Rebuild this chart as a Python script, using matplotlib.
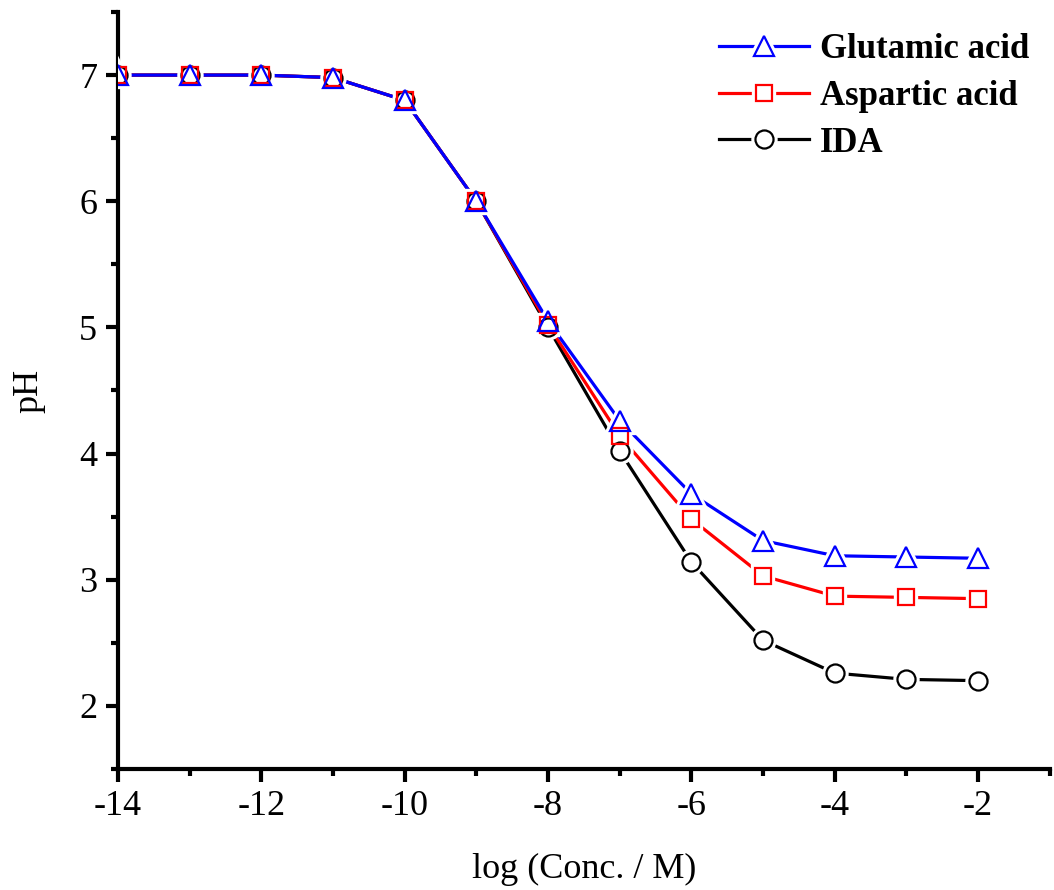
import matplotlib.pyplot as plt
from matplotlib.lines import Line2D
from matplotlib.ticker import MultipleLocator

# ======================================================
# DATA
# ======================================================

log_conc = [-14, -13, -12, -11, -10, -9, -8, -7, -6, -5, -4, -3, -2]

ph_glutamic = [7.0, 7.0, 7.0, 6.98, 6.8, 6.0, 5.05, 4.26, 3.68, 3.31, 3.19, 3.18, 3.17]
ph_aspartic = [7.0, 7.0, 7.0, 6.98, 6.8, 6.0, 5.02, 4.14, 3.48, 3.03, 2.87, 2.86, 2.85]
ph_ida = [7.0, 7.0, 7.0, 6.98, 6.8, 6.0, 5.0, 4.02, 3.14, 2.52, 2.26, 2.21, 2.20]

series = [
    ("IDA", ph_ida, "black", "o", 13),
    ("Aspartic acid", ph_aspartic, "red", "s", 11.5),
    ("Glutamic acid", ph_glutamic, "blue", "^", 14.5),
]

# ======================================================
# PLOT
# ======================================================

plt.rcParams["font.family"] = ["Liberation Serif", "DejaVu Serif"]
plt.rcParams["axes.unicode_minus"] = False

fig = plt.figure(figsize=(10.54, 8.9), dpi=100)
ax = fig.add_axes([0.112, 0.136, 0.884, 0.8505])

handles = {}
for name, vals, col, mk, ms in series:
    ln, = ax.plot(log_conc, vals, color=col, lw=2.3, zorder=2)
    # white halo so the line stops short of each marker
    halo, = ax.plot(log_conc, vals, ls="none", marker=mk, ms=ms, mfc="white",
                    mec="white", mew=6, zorder=3)
    mrk, = ax.plot(log_conc, vals, ls="none", marker=mk, ms=ms, mfc="none",
                   mec=col, mew=1.6, zorder=4)
    handles[name] = (ln, halo, mrk)

ax.set_xlim(-14, -1)
ax.set_ylim(1.5, 7.5)

ax.xaxis.set_major_locator(MultipleLocator(2))
ax.xaxis.set_minor_locator(MultipleLocator(1))
ax.yaxis.set_major_locator(MultipleLocator(1))
ax.yaxis.set_minor_locator(MultipleLocator(0.5))

ax.spines["top"].set_visible(False)
ax.spines["right"].set_visible(False)
ax.spines["left"].set_linewidth(3)
ax.spines["bottom"].set_linewidth(3)

ax.tick_params(which="major", direction="out", length=9, width=3,
               labelsize=26, pad=6)
ax.tick_params(which="minor", direction="out", length=5, width=3)

ax.set_yticks([2, 3, 4, 5, 6, 7])
ax.set_xticks([-14, -12, -10, -8, -6, -4, -2])

ax.set_xlabel("log (Conc. / M)", fontsize=26, labelpad=22)
ax.set_ylabel("pH", fontsize=26, labelpad=24)

names = ["Glutamic acid", "Aspartic acid", "IDA"]
ax.legend([handles[n] for n in names], names,
          loc="upper right", bbox_to_anchor=(1.0, 1.0), frameon=False,
          prop={"weight": "bold", "size": 25}, handlelength=2.6,
          handletextpad=0.3, labelspacing=0.4, borderaxespad=0.2)

fig.savefig("out.png", dpi=100)
